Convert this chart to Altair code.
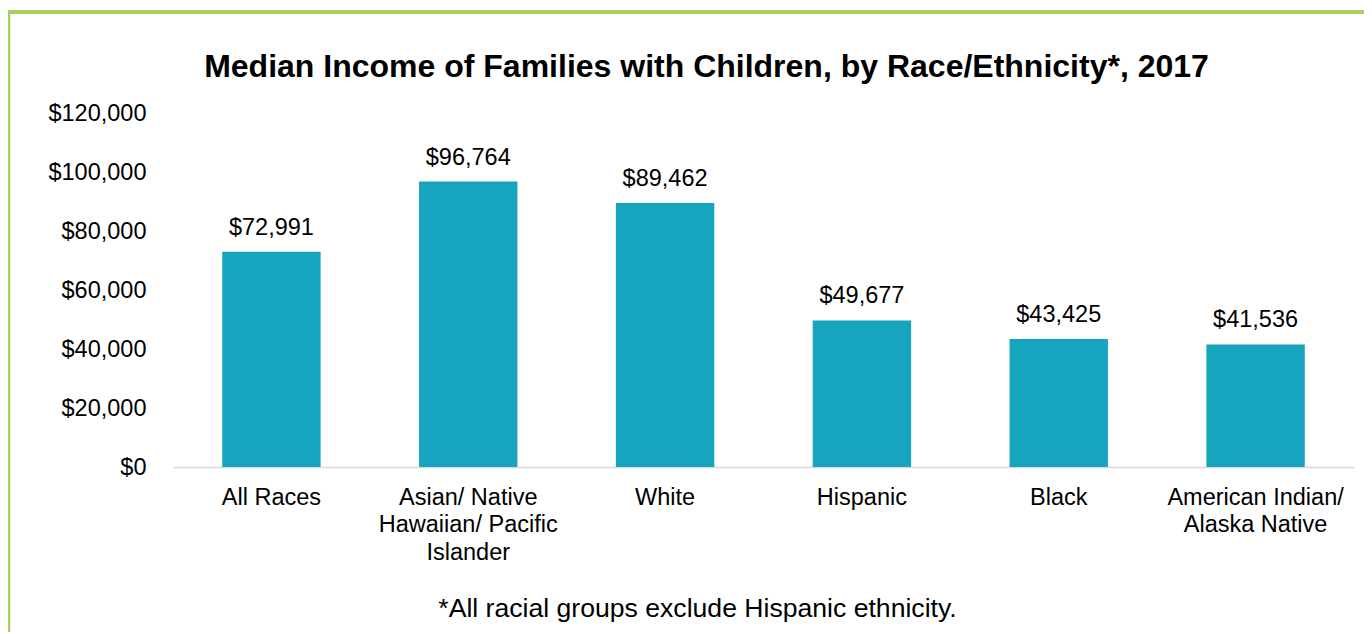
import altair as alt
import pandas as pd

categories = [
    "All Races",
    "Asian/ Native|Hawaiian/ Pacific|Islander",
    "White",
    "Hispanic",
    "Black",
    "American Indian/|Alaska Native",
]
median_income = [72991, 96764, 89462, 49677, 43425, 41536]
y_ticks = [0, 20000, 40000, 60000, 80000, 100000, 120000]

title_text = "Median Income of Families with Children, by Race/Ethnicity*, 2017"
footnote_text = "*All racial groups exclude Hispanic ethnicity."

df = pd.DataFrame({"group": categories, "income": median_income})

FONT = "Liberation Sans"
BAR = "#17A4BE"
GREEN = "#A8D05A"

x_enc = alt.X(
    "group:N",
    sort=None,
    scale=alt.Scale(paddingInner=0.5, paddingOuter=0.25),
    axis=alt.Axis(
        title=footnote_text,
        titleFont=FONT,
        titleFontSize=26.6,
        titleFontWeight="normal",
        titleColor="#000000",
        titleX=524,
        titleY=141,
        titleAlign="center",
        titleBaseline="middle",
        labelExpr="split(datum.label, '|')",
        labelFont=FONT,
        labelFontSize=23.5,
        labelColor="#000000",
        labelLineHeight=27.5,
        labelPadding=18,
        labelAngle=0,
        labelLimit=400,
        ticks=False,
        domainColor="#D9D9D9",
        domainWidth=1.5,
    ),
)
y_enc = alt.Y(
    "income:Q",
    scale=alt.Scale(domain=[0, 120000], nice=False),
    axis=alt.Axis(
        title=None,
        values=y_ticks,
        format="$,.0f",
        labelFont=FONT,
        labelFontSize=23.5,
        labelColor="#000000",
        labelPadding=27,
        ticks=False,
        domain=False,
        grid=False,
    ),
)

base = alt.Chart(df)
bars = base.mark_bar(color=BAR).encode(x=x_enc, y=y_enc)
labels = base.mark_text(
    font=FONT, fontSize=23.5, color="#000000", baseline="alphabetic", dy=-17
).encode(x=alt.X("group:N", sort=None), y="income:Q", text=alt.Text("income:Q", format="$,.0f"))

frame = pd.DataFrame({"k": [0]})
top_border = alt.Chart(frame).mark_rule(color=GREEN, strokeWidth=4).encode(
    x=alt.value(-166), x2=alt.value(1191), y=alt.value(-101)
)
left_border = alt.Chart(frame).mark_rule(color=GREEN, strokeWidth=3.5).encode(
    x=alt.value(-164.5), y=alt.value(-103), y2=alt.value(530)
)

chart = (
    alt.layer(bars, labels, top_border, left_border)
    .properties(
        width=1181,
        height=354,
        background="#ffffff",
        padding={"left": 165, "top": 105, "right": 10, "bottom": 165},
        autosize=alt.AutoSizeParams(type="none"),
        title=alt.TitleParams(
            text=title_text,
            font=FONT,
            fontSize=32,
            fontWeight="bold",
            color="#000000",
            anchor="middle",
            frame="group",
            dx=-57,
            dy=130,
            offset=29,
            baseline="alphabetic",
        ),
    )
    .configure_view(stroke="transparent", strokeWidth=0)
)

chart.save("out.html", embed_options={"renderer": "svg", "actions": False})
